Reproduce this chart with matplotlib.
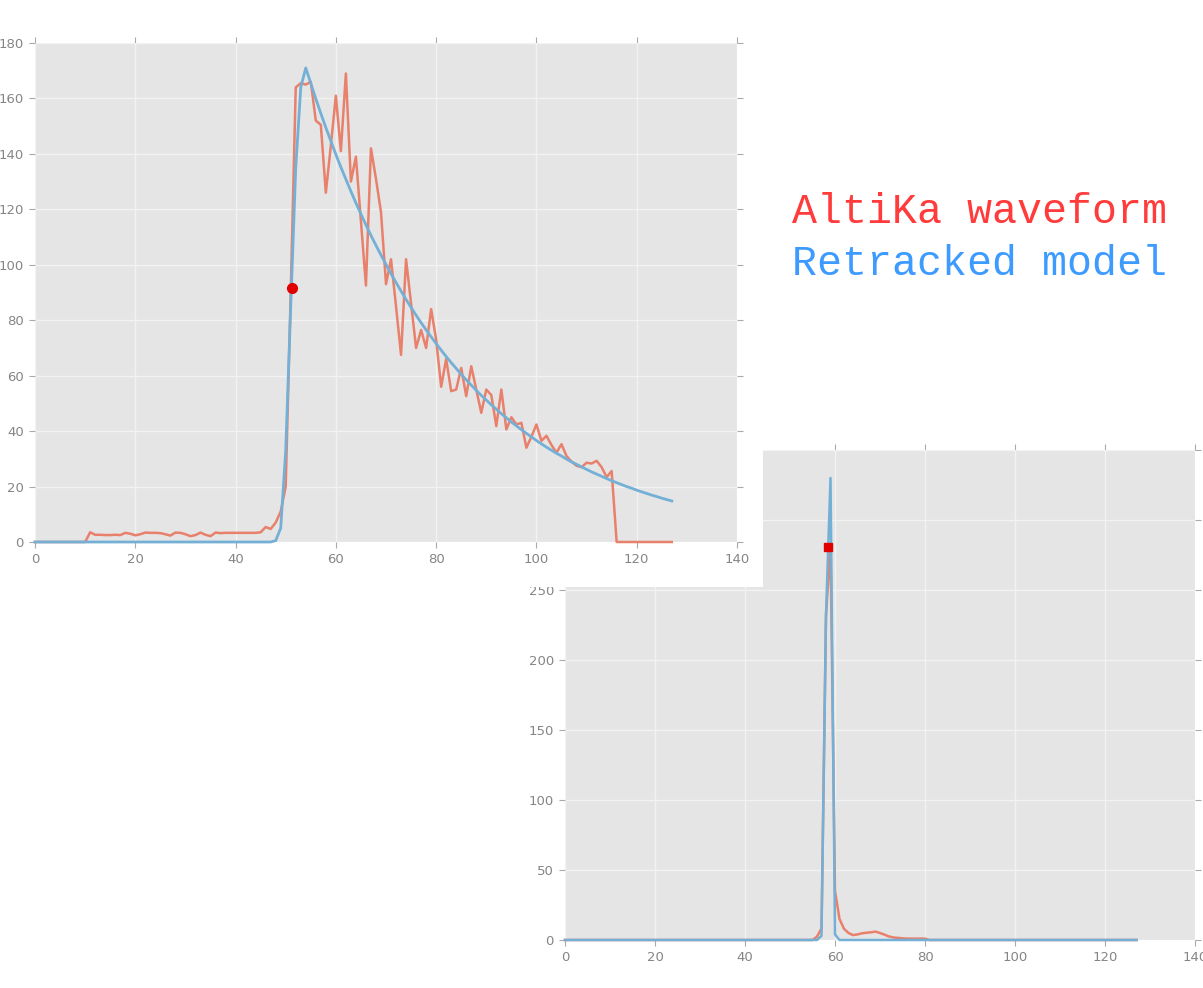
import matplotlib
matplotlib.use("Agg")
import matplotlib.pyplot as plt
from matplotlib.patches import Rectangle
import numpy as np

# ---------------- data ----------------
gates = np.arange(128)

# Upper panel: AltiKa waveform (red) and retracked model (blue)
red_top = ([0.0] * 11 +
           [3.5, 2.6, 2.6, 2.5, 2.5, 2.6, 2.5, 3.3, 3.0, 2.4,
            2.8, 3.4, 3.3, 3.3, 3.2, 2.8, 2.3, 3.4, 3.3, 2.8,
            2.1, 2.5, 3.4, 2.6, 2.1, 3.4, 3.2, 3.3, 3.3, 3.3,
            3.3, 3.3, 3.3, 3.3, 3.5, 5.4, 4.7, 7.0, 11.0, 20.0,
            90.0, 164.0, 165.5, 165.0, 166.0, 152.0, 150.5, 126.0, 143.0, 161.0,
            141.0, 169.0, 130.0, 139.0, 116.0, 92.5, 142.0, 131.0, 119.0, 93.0,
            102.0, 85.0, 67.5, 102.0, 86.0, 70.0, 76.5, 70.0, 84.0, 73.0,
            56.0, 66.0, 54.4, 55.0, 62.8, 52.6, 63.4, 55.0, 46.6, 55.0,
            53.0, 41.8, 55.0, 40.6, 45.0, 42.4, 43.0, 34.0, 38.0, 42.4,
            36.5, 38.3, 35.0, 32.2, 35.3, 31.0, 29.0, 27.5, 27.0, 28.6,
            28.3, 29.3, 27.0, 23.4, 25.6] +
           [0.0] * 12)

blue_top = ([0.0] * 48 +
            [0.5, 5.0, 33.0, 85.0, 135.0, 164.0, 171.0,
             165.4, 159.9, 154.6, 149.5, 144.6, 139.8, 135.2, 130.8, 126.5, 122.3,
             118.3, 114.4, 110.6, 107.0, 103.5, 100.1, 96.8, 93.6, 90.5, 87.5,
             84.6, 81.8, 79.1, 76.5, 74.0, 71.6, 69.2, 66.9, 64.7, 62.6,
             60.5, 58.5, 56.6, 54.7, 52.9, 51.2, 49.5, 47.9, 46.3, 44.8,
             43.3, 41.9, 40.5, 39.2, 37.9, 36.6, 35.4, 34.2, 33.1, 32.0,
             31.0, 29.9, 28.9, 28.0, 27.1, 26.2, 25.3, 24.5, 23.7, 22.9,
             22.1, 21.4, 20.7, 20.0, 19.4, 18.7, 18.1, 17.5, 16.9, 16.4,
             15.8, 15.3, 14.8])

retrack_top = (51.2, 91.5)

# Lower panel: specular waveform
red_bot = ([0.0] * 56 +
           [2.4, 8.3, 232.0, 281.0, 35.0, 15.0, 8.0, 5.0, 3.5, 4.0,
            4.8, 5.2, 5.5, 6.0, 5.0, 3.8, 2.5, 1.8, 1.5, 1.2,
            1.0, 1.0, 1.0, 1.0, 1.0] +
           [0.0] * 47)

blue_bot = [0.0] * 57 + [3.0, 232.0, 330.0, 4.0] + [0.0] * 67

retrack_bot = (58.5, 281.0)

x_ticks = [0, 20, 40, 60, 80, 100, 120, 140]
y_ticks_top = [0, 20, 40, 60, 80, 100, 120, 140, 160, 180]
y_ticks_bot = [0, 50, 100, 150, 200, 250, 300, 350]

legend_labels = ["AltiKa waveform", "Retracked model"]

# ---------------- style ----------------
RED = "#E8806C"
BLUE = "#74B0D6"
DOT = "#E00000"
W, H = 1203, 988

fig = plt.figure(figsize=(W / 100, H / 100), dpi=100)
fig.patch.set_facecolor("white")


def style_axes(ax, yticks, ylim):
    ax.set_facecolor("#E5E5E5")
    for s in ax.spines.values():
        s.set_visible(False)
    ax.grid(True, color="#F2F2F2", linewidth=1.0)
    ax.set_axisbelow(True)
    ax.set_xlim(0, 140)
    ax.set_ylim(*ylim)
    ax.set_xticks(x_ticks)
    ax.set_yticks(yticks)
    ax.tick_params(direction="out", length=4, width=0.8, colors="#AAAAAA",
                   labelcolor="#858585", labelsize=9.5, top=True, right=True,
                   labeltop=False, labelright=False, pad=4)


def frac(x0, y0, x1, y1):
    return [x0 / W, 1 - y1 / H, (x1 - x0) / W, (y1 - y0) / H]


# lower-right panel (drawn first, partly hidden)
ax2 = fig.add_axes(frac(565, 450, 1195, 940))
ax2.set_zorder(0)
style_axes(ax2, y_ticks_bot, (0, 350))
ax2.plot(gates, red_bot, color=RED, lw=1.8, zorder=2, clip_on=False)
ax2.plot(gates, blue_bot, color=BLUE, lw=1.8, zorder=3, clip_on=False)
ax2.plot([retrack_bot[0]], [retrack_bot[1]], "s", color=DOT, ms=5.5, zorder=4)

# white backing of the upper panel
fig.add_artist(Rectangle((0, 1 - 587 / H), 763 / W, 587 / H,
                         transform=fig.transFigure, facecolor="white",
                         edgecolor="none", zorder=1))

# upper-left panel
ax1 = fig.add_axes(frac(35, 43, 737, 542))
ax1.set_zorder(2)
style_axes(ax1, y_ticks_top, (0, 180))
ax1.plot(gates, red_top, color=RED, lw=1.8, zorder=2, clip_on=False)
ax1.plot(gates, blue_top, color=BLUE, lw=2.0, zorder=3, clip_on=False)
ax1.plot([retrack_top[0]], [retrack_top[1]], "o", color=DOT, ms=7, zorder=4)

# legend-like text
fig.text(792 / W, 1 - 223 / H, legend_labels[0], color="#FF3B3B",
         family="Liberation Mono", fontsize=30, va="baseline", ha="left",
         zorder=5)
fig.text(792 / W, 1 - 275 / H, legend_labels[1], color="#3D9BFF",
         family="Liberation Mono", fontsize=30, va="baseline", ha="left",
         zorder=5)

fig.savefig("out.png", dpi=100, facecolor="white")
